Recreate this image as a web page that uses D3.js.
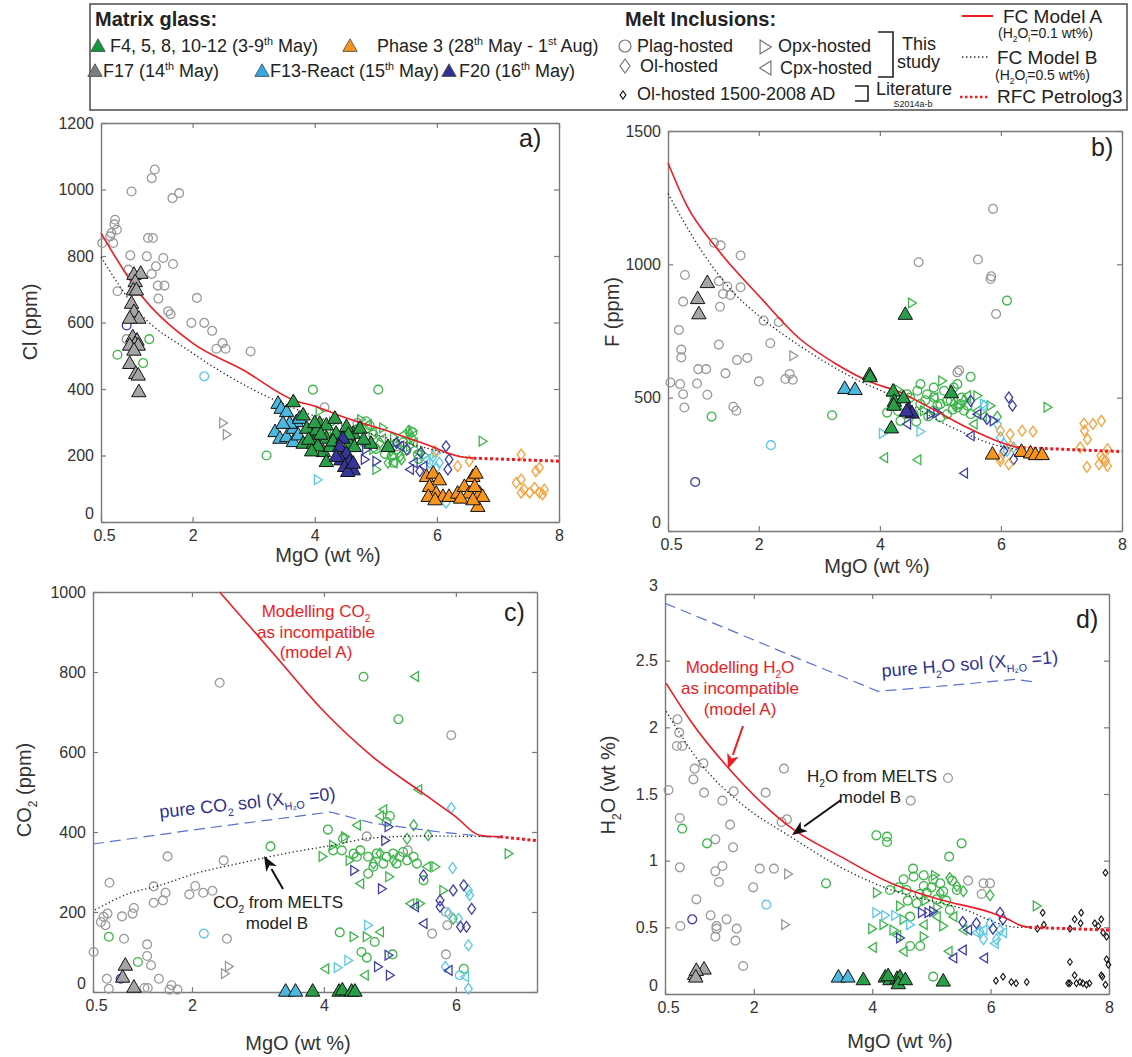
<!DOCTYPE html>
<html>
<head>
<meta charset="utf-8">
<script src="https://cdn.jsdelivr.net/npm/d3@7"></script>
<style>
  body { margin: 0; background: #fff; }
  svg { display: block; font-family: "Liberation Sans", Arial, sans-serif; }
  text { white-space: pre; }
</style>
</head>
<body>
<div id="chart"></div>
<script>
// ---------- data: panel a) Cl (ppm) vs MgO (wt %) ----------
const clPlagGrey = [[0.52,839],[0.67,869],[0.73,909],[0.76,879],[0.70,839],[0.65,859],[0.72,895],[1.0,994],[1.33,1034],[1.38,1060],[1.67,974],[1.78,989],[1.27,854],[1.35,854],[0.98,802],[1.25,799],[1.52,794],[1.68,776],[1.4,769],[1.33,746],[0.95,759],[0.77,694],[1.43,711],[1.54,711],[1.44,672],[2.07,674],[1.6,634],[1.64,625],[1.98,599],[2.19,599],[2.32,575],[2.49,538],[2.54,521],[2.39,521],[2.95,513],[0.92,550],[4.16,345],[4.7,298],[5.35,228]];
const clPlagGreen = [[0.77,503],[1.29,550],[1.19,478],[3.21,200],[3.97,398],[5.04,398],[4.84,303],[4.96,263],[5.26,198],[5.34,218],[5.69,203],[4.52,278],[5.29,178],[4.4,258],[4.9,290],[5.45,240],[5.6,270],[4.6,250],[4.8,240],[5.0,220],[5.15,205],[5.5,215],[5.7,190]];
const clPlagCyan = [[2.19,438]];
const clPlagBlue = [[0.92,591]];
const clOpxGrey = [[2.5,298],[2.56,263]];
const clOpxGreen = [[4.08,333],[5.01,158],[4.96,218],[6.75,243],[5.12,283],[5.29,198],[5.56,228],[4.76,308],[4.3,300],[5.6,275],[4.5,262],[5.3,255],[5.8,200]];
const clOpxCyan = [[4.05,127],[5.99,208]];
const clOpxBlue = [[4.84,218],[5.01,183],[4.82,188]];
const clCpxGreen = [[4.63,278],[4.87,293],[5.29,178],[5.45,263],[5.62,238],[5.29,238],[4.2,280],[5.1,250],[4.95,270],[5.7,210]];
const clCpxCyan = [[5.83,188]];
const clCpxBlue = [[5.56,158],[5.78,168],[5.62,178],[5.4,228]];
const clOlGreen = [[5.53,273],[5.56,263],[5.42,188],[5.2,178],[5.07,238],[5.4,198],[5.6,250],[5.25,215]];
const clOlCyan = [[6.15,58],[5.94,198],[6.04,178],[5.88,178],[5.99,163]];
const clOlBlue = [[6.15,228],[5.74,208],[5.72,153],[6.18,158],[6.2,188],[5.34,238],[5.51,218]];
const clOlOrange = [[7.38,203],[7.62,153],[7.68,163],[7.3,118],[7.38,128],[7.43,98],[7.38,88],[7.52,88],[7.6,103],[7.68,88],[7.76,98],[7.73,83],[6.53,183],[6.34,168],[5.97,213]];
const clGlassGrey = [[1.04,746],[1.15,749],[1.06,724],[1.03,699],[1.08,699],[1.0,659],[1.04,634],[1.12,614],[0.97,614],[1.02,558],[1.09,548],[1.06,538],[0.97,533],[1.11,533],[1.04,518],[0.97,478],[1.07,448],[1.11,443],[1.12,393]];
const clGlassCyan = [[3.4,358],[3.45,343],[3.54,333],[3.35,273],[3.43,253],[3.54,258],[3.65,283],[3.7,303],[3.59,298],[3.65,243],[3.73,263],[3.48,298],[3.75,313]];
const clGlassGreen = [[3.65,363],[3.81,323],[3.87,283],[3.98,258],[3.81,238],[3.98,238],[4.08,298],[4.19,293],[4.33,313],[4.19,253],[4.35,268],[4.14,213],[4.25,228],[4.19,183],[4.46,253],[4.57,238],[4.63,268],[4.74,283],[4.65,228],[4.92,238],[5.2,228],[4.03,278],[4.52,288],[4.41,208],[3.9,250],[4.05,230],[4.0,300],[4.3,245],[4.1,265],[4.55,265],[4.8,250],[3.95,215]];
const clGlassBlue = [[4.46,253],[4.41,228],[4.52,208],[4.43,188],[4.57,183],[4.49,168],[4.63,158],[4.54,153],[4.35,198],[4.63,178]];
const clGlassOrange = [[5.83,138],[5.94,148],[6.04,128],[5.88,108],[5.99,88],[5.86,78],[6.1,78],[5.97,68],[6.2,78],[6.34,88],[6.45,108],[6.59,138],[6.64,148],[6.53,88],[6.7,88],[6.62,108],[6.67,48],[6.75,78],[6.59,68],[6.39,73]];
const clModelA = [[0.5,869],[1.09,698],[2.0,538],[2.83,457],[3.65,367],[4.04,346],[4.47,316],[5.29,268],[5.84,232],[6.39,196],[6.6,192]];
const clModelB = [[0.5,797],[1.09,638],[2.0,508],[2.94,403],[4.04,316],[5.0,262],[5.84,222],[6.43,196],[6.6,193]];
const clRfc = [[6.6,192],[8,183]];

// ---------- data: panel b) F (ppm) ----------
const fPlagGrey = [[0.54,557],[0.7,551],[0.75,513],[0.77,463],[0.68,754],[0.72,680],[0.72,651],[0.78,960],[0.75,860],[0.98,553],[1.0,607],[1.13,607],[1.15,511],[1.26,1081],[1.37,1071],[1.34,937],[1.36,841],[1.34,699],[1.41,889],[1.48,917],[1.53,885],[1.45,591],[1.7,1033],[1.7,914],[1.64,641],[1.81,649],[1.58,466],[1.63,451],[2.08,789],[2.0,561],[2.19,704],[2.33,783],[2.44,570],[2.51,589],[2.56,567],[4.64,1008],[5.62,1018],[5.83,945],[5.84,955],[5.87,1208],[5.92,814],[5.28,595],[5.31,603]];
const fPlagGreen = [[1.22,429],[3.21,434],[6.1,864],[5.5,578],[4.12,444],[4.23,476],[4.45,513],[4.62,526],[4.78,513],[4.89,538],[5.06,526],[5.22,538],[5.33,476],[5.28,463],[4.67,476],[4.89,451],[5.11,438],[5.39,451],[5.5,438],[4.56,438],[5.0,476],[5.17,488],[4.34,413],[5.28,551],[4.89,501],[4.67,551],[5.11,488],[5.0,426],[4.4,470],[4.5,500],[4.75,490],[4.95,470],[5.2,455],[5.35,500],[4.3,450],[4.6,410],[4.8,430],[5.45,470]];
const fPlagCyan = [[2.2,322]];
const fPlagBlue = [[0.95,184]];
const fOpxGrey = [[2.57,657]];
const fOpxGreen = [[4.53,855],[6.77,464],[5.03,563],[5.61,507],[4.73,451],[4.23,513],[5.83,470],[4.3,530],[5.3,470]];
const fOpxCyan = [[4.05,366],[4.67,373],[5.72,476]];
const fOpxBlue = [[4.84,438],[4.95,444],[5.88,413]];
const fCpxGreen = [[4.07,275],[4.62,267],[5.44,507],[5.61,451],[5.55,401],[4.9,500],[5.7,430]];
const fCpxBlue = [[5.39,217],[5.5,357],[5.61,438],[4.45,401]];
const fOlGreen = [[5.94,428],[5.22,476],[5.39,488]];
const fOlCyan = [[5.72,470],[5.94,401],[5.99,351],[6.05,326],[6.1,300],[6.21,313]];
const fOlBlue = [[6.13,501],[6.19,470],[5.5,488],[5.77,420],[6.05,300],[6.21,269]];
const fOlOrange = [[7.37,403],[7.52,401],[7.66,413],[7.38,376],[7.43,344],[7.31,313],[7.76,307],[7.65,282],[7.73,263],[7.42,240],[7.62,250],[7.76,244],[7.68,269],[5.99,376],[6.15,363],[6.35,376],[6.53,373],[6.16,319],[5.99,275],[6.13,250],[5.99,263]];
const fGlassGrey = [[1.15,933],[0.99,873],[1.01,816]];
const fGlassGreen = [[4.42,814],[3.83,588],[3.84,580],[4.22,526],[4.24,488],[4.23,473],[4.19,388],[4.39,501],[5.18,520]];
const fGlassCyan = [[3.42,536],[3.59,532]];
const fGlassBlue = [[4.48,457],[4.53,444],[4.44,451]];
const fGlassOrange = [[5.86,290],[6.34,300],[6.49,294],[6.57,288],[6.68,288]];
const fModelA = [[0.5,1380],[0.81,1221],[1.31,1059],[2.0,882],[2.68,720],[3.23,633],[3.81,562],[4.33,520],[4.88,456],[5.44,388],[6.0,332],[6.27,313]];
const fModelB = [[0.5,1266],[1.03,1059],[1.57,897],[2.0,807],[2.68,694],[3.51,580],[4.33,494],[5.16,392],[6.0,317],[6.3,305]];
const fRfc = [[6.27,313],[8,298]];

// ---------- data: panel c) CO2 (ppm) ----------
const co2PlagGrey = [[0.51,100],[0.71,33],[0.74,8],[0.62,175],[0.66,188],[0.72,196],[0.69,167],[0.75,273],[0.94,189],[0.97,133],[1.1,196],[1.12,210],[1.32,119],[1.32,90],[1.38,67],[1.28,10],[1.33,10],[1.5,33],[1.42,223],[1.42,264],[1.56,229],[1.6,248],[1.63,339],[1.69,17],[1.78,6],[1.66,6],[1.96,244],[2.05,265],[2.17,248],[2.31,253],[2.48,329],[2.53,133],[2.42,773],[5.93,642],[4.65,389],[5.27,354],[5.64,146],[5.85,200],[5.87,167],[5.85,94]];
const co2PlagGreen = [[0.74,138],[1.18,75],[3.19,364],[4.6,788],[5.13,682],[4.06,406],[4.24,149],[4.57,100],[4.65,86],[4.77,125],[5.04,94],[6.12,58],[5.51,279],[4.14,354],[4.27,354],[4.29,383],[4.45,346],[4.55,354],[4.67,338],[4.8,346],[4.95,338],[5.05,346],[5.15,338],[5.26,329],[5.36,338],[4.75,313],[4.9,321],[5.1,321],[4.5,338],[5.2,350],[5.41,321],[4.67,296],[4.95,425],[5.0,440]];
const co2PlagCyan = [[2.18,146],[6.06,42]];
const co2PlagBlue = [[0.92,33]];
const co2OpxGrey = [[2.56,64],[2.5,46]];
const co2OpxGreen = [[6.8,346],[3.98,339],[4.14,367],[4.45,138],[4.65,138],[5.69,313],[5.81,254],[5.46,221],[4.99,288],[4.32,388],[4.39,329]];
const co2OpxCyan = [[4.67,167],[4.37,79],[4.21,61]];
const co2OpxBlue = [[4.98,413],[4.93,379],[4.88,258],[4.98,92],[4.82,63],[5.0,42],[4.46,304]];
const co2CpxGreen = [[5.38,789],[5.43,506],[4.5,417],[4.9,456],[4.02,58],[4.62,42],[5.31,221],[4.85,150],[5.56,313],[4.55,271],[4.85,440]];
const co2CpxCyan = [[6.14,38]];
const co2CpxBlue = [[5.38,213],[5.51,171],[5.89,54]];
const co2OlGreen = [[5.36,417],[5.26,383],[5.58,392],[5.05,329],[5.96,183],[4.75,321],[4.85,346]];
const co2OlCyan = [[5.93,460],[5.95,310],[5.89,196],[6.04,183],[6.19,254],[6.21,242],[6.19,117],[6.19,8],[5.84,63]];
const co2OlBlue = [[5.51,292],[5.76,229],[5.96,254],[6.12,267],[6.07,163],[6.16,163],[6.24,208],[5.76,213]];
const co2GlassGrey = [[0.99,68],[0.95,38],[1.12,13]];
const co2GlassCyan = [[3.42,3],[3.57,3]];
const co2GlassGreen = [[3.83,3],[4.23,3],[4.28,6],[4.42,3],[4.47,3]];
const co2ModelA = [[2.42,1000],[3.23,847],[3.98,705],[4.74,588],[5.5,497],[6.0,438],[6.36,392],[6.67,388]];
const co2ModelB = [[0.53,205],[1.06,247],[1.48,265],[2.07,297],[2.73,322],[3.44,347],[4.14,367],[4.74,385],[5.5,390],[6.67,388]];
const co2Rfc = [[6.67,388],[7.25,378]];
const co2Sol = [[0.5,370],[2.23,410],[4.1,450],[4.74,422],[5.76,400],[6.67,385]];

// ---------- data: panel d) H2O (wt %) ----------
const h2oPlagGrey = [[0.56,1.53],[0.71,2.06],[0.74,1.96],[0.7,1.86],[0.79,1.86],[1.0,1.69],[0.98,1.61],[1.15,1.73],[1.16,1.51],[1.47,1.45],[1.66,1.52],[2.2,1.51],[2.51,1.69],[2.47,1.29],[2.56,1.31],[1.6,1.27],[1.35,1.16],[1.65,1.1],[0.75,1.32],[0.75,0.95],[1.47,0.96],[1.35,0.92],[1.41,0.84],[2.1,0.94],[2.34,0.94],[1.99,0.8],[1.03,0.71],[0.76,0.51],[1.27,0.59],[1.37,0.51],[1.37,0.49],[1.35,0.43],[1.54,0.56],[1.71,0.49],[1.69,0.4],[1.82,0.21],[5.28,1.62],[4.65,1.45],[5.62,0.85],[5.88,0.83],[5.99,0.83],[5.85,0.75]];
const h2oPlagGreen = [[0.79,1.24],[1.21,1.13],[3.22,0.83],[4.07,1.19],[4.25,1.18],[4.25,1.14],[5.51,1.13],[5.3,1.03],[4.69,0.94],[5.03,0.13],[4.64,0.36],[4.81,0.36],[4.53,0.86],[4.7,0.88],[4.87,0.89],[5.03,0.86],[5.15,0.83],[4.87,0.81],[4.58,0.78],[4.92,0.76],[5.2,0.77],[4.75,0.68],[5.09,0.71],[5.31,0.63],[4.64,0.58],[4.3,0.78],[5.43,0.78],[4.45,0.8],[4.8,0.75],[5.0,0.8],[5.25,0.7],[4.6,0.7],[5.35,0.85]];
const h2oPlagCyan = [[2.21,0.67]];
const h2oPlagBlue = [[0.96,0.56]];
const h2oOpxGrey = [[2.58,0.9],[2.53,0.52]];
const h2oOpxGreen = [[4.08,0.76],[4.0,0.49],[4.19,0.52],[4.36,0.48],[5.06,0.89],[6.78,0.66],[4.87,0.43],[5.2,0.51],[4.53,0.56],[4.47,0.66],[4.9,0.7],[5.1,0.65]];
const h2oOpxCyan = [[4.07,0.61],[4.22,0.59],[4.39,0.59],[4.64,0.52]];
const h2oOpxBlue = [[4.84,0.61],[4.95,0.61],[5.03,0.62],[4.47,0.42]];
const h2oCpxGreen = [[4.01,0.35],[4.53,0.32],[5.29,0.32],[4.42,0.44],[4.87,0.52],[5.09,0.58],[5.37,0.58],[5.54,0.48]];
const h2oCpxCyan = [[5.88,0.48],[5.76,0.46],[6.07,0.38],[6.21,0.46]];
const h2oCpxBlue = [[5.37,0.27],[5.53,0.33],[5.89,0.27],[5.62,0.48]];
const h2oOlGreen = [[5.31,0.87],[5.54,0.77],[5.99,0.74],[5.15,0.76],[5.43,0.81]];
const h2oOlCyan = [[5.82,0.47],[5.99,0.53],[6.1,0.41],[6.16,0.48],[5.88,0.41]];
const h2oOlBlue = [[5.53,0.54],[5.76,0.53],[6.16,0.61],[6.21,0.56],[6.04,0.49]];
const h2oLitOl = [[6.09,0.1],[6.21,0.13],[6.35,0.09],[6.43,0.08],[6.61,0.09],[6.88,0.61],[6.9,0.52],[6.79,0.49],[7.34,0.24],[7.34,0.49],[7.42,0.56],[7.53,0.61],[7.52,0.53],[7.42,0.14],[7.34,0.08],[7.45,0.08],[7.56,0.08],[7.51,0.09],[7.62,0.07],[7.76,0.53],[7.82,0.51],[7.87,0.56],[7.9,0.46],[7.96,0.43],[7.94,0.91],[7.96,0.26],[7.99,0.22],[7.87,0.14],[7.89,0.13],[7.94,0.07],[7.31,0.08],[7.67,0.08]];
const h2oGlassGrey = [[1.0,0.15],[1.16,0.19],[1.03,0.18],[1.02,0.13]];
const h2oGlassCyan = [[3.43,0.13],[3.59,0.13]];
const h2oGlassGreen = [[3.85,0.11],[4.22,0.13],[4.3,0.11],[4.42,0.12],[4.47,0.13],[4.44,0.08],[4.56,0.11],[5.2,0.1],[4.27,0.14]];
const h2oModelA = [[0.52,2.33],[0.93,2.05],[1.6,1.68],[2.62,1.25],[3.47,1.03],[4.32,0.83],[5.17,0.705],[6.01,0.61],[6.3,0.56],[6.47,0.52],[6.65,0.5]];
const h2oModelB = [[0.52,2.12],[1.1,1.73],[1.78,1.43],[2.62,1.18],[3.47,0.95],[4.32,0.78],[5.45,0.65],[6.47,0.5],[6.7,0.5]];
const h2oRfc = [[6.65,0.5],[8,0.48]];
const h2oSol = [[0.5,2.93],[1.49,2.75],[2.62,2.54],[4.1,2.27],[5.45,2.32],[6.41,2.36],[6.75,2.34]];

// ---------- styles ----------
const C = {
  green: '#3db54a', grey: '#9a9a9a', cyan: '#5cc8e6', blue: '#3e3ea6', orange: '#f7a13a',
  gGreen: '#2a9d48', gGrey: '#a5a5a5', gCyan: '#4db8dd', gBlue: '#35359c', gOrange: '#f7941e',
  red: '#ed1c24', sol: '#5b6fd2', text: '#222'
};

const svg = d3.select('#chart').append('svg')
  .attr('width', 1132).attr('height', 1057);

// marker outline built with d3.path
function shapePath(kind, s) {
  const p = d3.path();
  if (kind === 'o') { p.moveTo(s, 0); p.arc(0, 0, s, 0, 2 * Math.PI); }
  else if (kind === 'd') { p.moveTo(0, -s); p.lineTo(s * 0.72, 0); p.lineTo(0, s); p.lineTo(-s * 0.72, 0); p.closePath(); }
  else if (kind === '>') { p.moveTo(-s * 0.7, -s); p.lineTo(s * 0.9, 0); p.lineTo(-s * 0.7, s); p.closePath(); }
  else if (kind === '<') { p.moveTo(s * 0.7, -s); p.lineTo(-s * 0.9, 0); p.lineTo(s * 0.7, s); p.closePath(); }
  else if (kind === '^') { p.moveTo(0, -s); p.lineTo(s, s * 0.75); p.lineTo(-s, s * 0.75); p.closePath(); }
  return p.toString();
}
const SIZE = { o: 4.4, d: 5.4, '>': 4.9, '<': 4.9 };

// text with sub/superscripts: '_x' = subscript, '^x' = superscript
function rich(sel, parts, size) {
  let shift = 0;
  parts.forEach(function (p) {
    const kind = p[0] === '_' ? 'sub' : p[0] === '^' ? 'sup' : 'n';
    const txt = kind === 'n' ? p : p.slice(1);
    const target = kind === 'sub' ? size * 0.3 : kind === 'sup' ? -size * 0.4 : 0;
    sel.append('tspan')
      .attr('dy', target - shift)
      .attr('font-size', kind === 'n' ? size : size * 0.6)
      .text(txt);
    shift = target;
  });
  return sel;
}

function arrow(g, x1, y1, x2, y2, color) {
  const ang = Math.atan2(y2 - y1, x2 - x1);
  const hl = 15, hw = 6;
  const bx = x2 - hl * Math.cos(ang), by = y2 - hl * Math.sin(ang);
  g.append('line').attr('x1', x1).attr('y1', y1).attr('x2', bx).attr('y2', by)
    .attr('stroke', color).attr('stroke-width', 2);
  g.append('path')
    .attr('d', 'M' + x2 + ',' + y2 +
      'L' + (bx + hw * Math.sin(ang)) + ',' + (by - hw * Math.cos(ang)) +
      'L' + (bx + 4 * Math.cos(ang)) + ',' + (by + 4 * Math.sin(ang)) +
      'L' + (bx - hw * Math.sin(ang)) + ',' + (by + hw * Math.cos(ang)) + 'Z')
    .attr('fill', color);
}

// ---------- panels ----------
const panels = [
  {
    left: 101, right: 559, top: 123, bottom: 522, xDomain: [0.5, 8], yDomain: [0, 1200],
    yTicks: [0, 200, 400, 600, 800, 1000, 1200], xTicks: [0.5, 2, 4, 6, 8],
    ylab: ['Cl (ppm)'], ylabPos: [37, 322], xlabPos: [328, 562], tag: 'a)', tagPos: [519, 147],
    mi: [[clPlagGrey, 'o', C.grey], [clOpxGrey, '>', C.grey], [clPlagGreen, 'o', C.green], [clOpxGreen, '>', C.green],
      [clCpxGreen, '<', C.green], [clOlGreen, 'd', C.green], [clPlagCyan, 'o', C.cyan], [clOpxCyan, '>', C.cyan],
      [clCpxCyan, '<', C.cyan], [clOlCyan, 'd', C.cyan], [clPlagBlue, 'o', C.blue], [clOpxBlue, '>', C.blue],
      [clCpxBlue, '<', C.blue], [clOlBlue, 'd', C.blue], [clOlOrange, 'd', C.orange]],
    glass: [[clGlassGrey, C.gGrey], [clGlassCyan, C.gCyan], [clGlassGreen, C.gGreen], [clGlassBlue, C.gBlue], [clGlassOrange, C.gOrange]],
    modelA: clModelA, modelB: clModelB, rfc: clRfc
  },
  {
    left: 668, right: 1122, top: 131, bottom: 531, xDomain: [0.5, 8], yDomain: [0, 1500],
    yTicks: [0, 500, 1000, 1500], xTicks: [0.5, 2, 4, 6, 8],
    ylab: ['F (ppm)'], ylabPos: [619, 312], xlabPos: [877, 573], tag: 'b)', tagPos: [1091, 156],
    mi: [[fPlagGrey, 'o', C.grey], [fOpxGrey, '>', C.grey], [fPlagGreen, 'o', C.green], [fOpxGreen, '>', C.green],
      [fCpxGreen, '<', C.green], [fOlGreen, 'd', C.green], [fPlagCyan, 'o', C.cyan], [fOpxCyan, '>', C.cyan],
      [fOlCyan, 'd', C.cyan], [fPlagBlue, 'o', C.blue], [fOpxBlue, '>', C.blue],
      [fCpxBlue, '<', C.blue], [fOlBlue, 'd', C.blue], [fOlOrange, 'd', C.orange]],
    glass: [[fGlassGrey, C.gGrey], [fGlassCyan, C.gCyan], [fGlassGreen, C.gGreen], [fGlassBlue, C.gBlue], [fGlassOrange, C.gOrange]],
    modelA: fModelA, modelB: fModelB, rfc: fRfc
  },
  {
    left: 93, right: 537, top: 592, bottom: 992, xDomain: [0.5, 7.23], yDomain: [0, 1000],
    yTicks: [0, 200, 400, 600, 800, 1000], xTicks: [0.5, 2, 4, 6],
    ylab: ['CO', '_2', ' (ppm)'], ylabPos: [31, 790], xlabPos: [298, 1050], tag: 'c)', tagPos: [504, 621],
    mi: [[co2PlagGrey, 'o', C.grey], [co2OpxGrey, '>', C.grey], [co2PlagGreen, 'o', C.green], [co2OpxGreen, '>', C.green],
      [co2CpxGreen, '<', C.green], [co2OlGreen, 'd', C.green], [co2PlagCyan, 'o', C.cyan], [co2OpxCyan, '>', C.cyan],
      [co2CpxCyan, '<', C.cyan], [co2OlCyan, 'd', C.cyan], [co2PlagBlue, 'o', C.blue], [co2OpxBlue, '>', C.blue],
      [co2CpxBlue, '<', C.blue], [co2OlBlue, 'd', C.blue]],
    glass: [[co2GlassGrey, C.gGrey], [co2GlassCyan, C.gCyan], [co2GlassGreen, C.gGreen]],
    modelA: co2ModelA, modelB: co2ModelB, rfc: co2Rfc, sol: co2Sol
  },
  {
    left: 665, right: 1109, top: 594, bottom: 994, xDomain: [0.5, 8], yDomain: [0, 3],
    yTicks: [0, 0.5, 1, 1.5, 2, 2.5, 3], xTicks: [0.5, 2, 4, 6, 8],
    ylab: ['H', '_2', 'O (wt %)'], ylabPos: [615, 785], xlabPos: [900, 1048], tag: 'd)', tagPos: [1076, 628],
    mi: [[h2oPlagGrey, 'o', C.grey], [h2oOpxGrey, '>', C.grey], [h2oPlagGreen, 'o', C.green], [h2oOpxGreen, '>', C.green],
      [h2oCpxGreen, '<', C.green], [h2oOlGreen, 'd', C.green], [h2oPlagCyan, 'o', C.cyan], [h2oOpxCyan, '>', C.cyan],
      [h2oCpxCyan, '<', C.cyan], [h2oOlCyan, 'd', C.cyan], [h2oPlagBlue, 'o', C.blue], [h2oOpxBlue, '>', C.blue],
      [h2oCpxBlue, '<', C.blue], [h2oOlBlue, 'd', C.blue]],
    lit: h2oLitOl,
    glass: [[h2oGlassGrey, C.gGrey], [h2oGlassCyan, C.gCyan], [h2oGlassGreen, C.gGreen]],
    modelA: h2oModelA, modelB: h2oModelB, rfc: h2oRfc, sol: h2oSol
  }
];

panels.forEach(function (p, idx) {
  const x = d3.scaleLinear().domain(p.xDomain).range([p.left, p.right]);
  const y = d3.scaleLinear().domain(p.yDomain).range([p.bottom, p.top]);
  const g = svg.append('g');

  // axes: MATLAB-like box with inward ticks
  const fmt = d3.format('~g');
  const ax = g.append('g').attr('transform', 'translate(0,' + p.bottom + ')')
    .call(d3.axisBottom(x).tickValues(p.xTicks).tickSize(-5).tickSizeOuter(0).tickPadding(8).tickFormat(fmt));
  ax.selectAll('text').filter(d => d === 0.5).attr('dx', 3);
  const ay = g.append('g').attr('transform', 'translate(' + p.left + ',0)')
    .call(d3.axisLeft(y).tickValues(p.yTicks).tickSize(-5).tickSizeOuter(0).tickPadding(7).tickFormat(fmt));
  ay.selectAll('text').filter(d => d === 0 || (idx === 3 && d === 3)).attr('dy', '-0.25em');
  g.append('g').attr('transform', 'translate(0,' + p.top + ')')
    .call(d3.axisTop(x).tickValues(p.xTicks).tickSize(-5).tickSizeOuter(0).tickFormat(''));
  g.append('g').attr('transform', 'translate(' + p.right + ',0)')
    .call(d3.axisRight(y).tickValues(p.yTicks).tickSize(-5).tickSizeOuter(0).tickFormat(''));
  g.selectAll('.domain').attr('stroke', '#7a7a7a').attr('stroke-width', 1.4);
  g.selectAll('.tick line').attr('stroke', '#7a7a7a').attr('stroke-width', 1.2);
  g.selectAll('.tick text').attr('font-size', 16).attr('fill', '#333')
    .attr('font-family', '"Liberation Sans", Arial, sans-serif');

  // axis titles
  rich(g.append('text').attr('transform', 'translate(' + p.ylabPos[0] + ',' + p.ylabPos[1] + ') rotate(-90)')
    .attr('text-anchor', 'middle').attr('fill', '#333'), p.ylab, 20);
  g.append('text').attr('x', p.xlabPos[0]).attr('y', p.xlabPos[1]).attr('text-anchor', 'middle')
    .attr('font-size', 20).attr('fill', '#333').text('MgO (wt %)');
  g.append('text').attr('x', p.tagPos[0]).attr('y', p.tagPos[1]).attr('font-size', 25).attr('fill', '#222').text(p.tag);

  // melt inclusions (open symbols)
  p.mi.forEach(function (s) {
    g.append('g').selectAll('path').data(s[0]).join('path')
      .attr('d', shapePath(s[1], SIZE[s[1]]))
      .attr('transform', d => 'translate(' + x(d[0]) + ',' + y(d[1]) + ')')
      .attr('fill', 'none').attr('stroke', s[2]).attr('stroke-width', 1.3);
  });
  if (p.lit) {
    g.append('g').selectAll('path').data(p.lit).join('path')
      .attr('d', shapePath('d', 3.3))
      .attr('transform', d => 'translate(' + x(d[0]) + ',' + y(d[1]) + ')')
      .attr('fill', 'none').attr('stroke', '#111').attr('stroke-width', 1.1);
  }

  // model curves
  const line = d3.line().x(d => x(d[0])).y(d => y(d[1])).curve(d3.curveMonotoneX);
  const lin = d3.line().x(d => x(d[0])).y(d => y(d[1]));
  if (p.sol) {
    g.append('path').datum(p.sol).attr('d', lin).attr('fill', 'none')
      .attr('stroke', C.sol).attr('stroke-width', 1.2).attr('stroke-dasharray', '11,6');
  }
  g.append('path').datum(p.modelB).attr('d', line).attr('fill', 'none')
    .attr('stroke', '#222').attr('stroke-width', 1.3).attr('stroke-dasharray', '1.3,2.6');
  g.append('path').datum(p.modelA).attr('d', line).attr('fill', 'none')
    .attr('stroke', C.red).attr('stroke-width', 1.6);
  g.append('path').datum(p.rfc).attr('d', lin).attr('fill', 'none')
    .attr('stroke', C.red).attr('stroke-width', 3).attr('stroke-dasharray', '3,2.5');

  // matrix glass (filled triangles)
  p.glass.forEach(function (s) {
    g.append('g').selectAll('path').data(s[0]).join('path')
      .attr('d', shapePath('^', 7.2))
      .attr('transform', d => 'translate(' + x(d[0]) + ',' + y(d[1]) + ')')
      .attr('fill', s[1]).attr('stroke', '#111').attr('stroke-width', 1);
  });
});

// ---------- annotations panel c ----------
const an = svg.append('g');
[['Modelling CO', '_2'], ['as incompatible'], ['(model A)']].forEach(function (t, i) {
  rich(an.append('text').attr('x', 316).attr('y', 617 + i * 20.5).attr('text-anchor', 'middle')
    .attr('fill', C.red), t, 17);
});
rich(an.append('text').attr('transform', 'translate(160,818) rotate(-6)').attr('fill', '#2e3192'),
  ['pure CO', '_2', ' sol (X', '_H\u2082O', ' =0)'], 18);
rich(an.append('text').attr('x', 278).attr('y', 908).attr('text-anchor', 'middle').attr('fill', C.text),
  ['CO', '_2', ' from MELTS'], 17);
an.append('text').attr('x', 277).attr('y', 929).attr('text-anchor', 'middle').attr('fill', C.text)
  .attr('font-size', 17).text('model B');
arrow(an, 283, 889, 264, 856, '#111');

// ---------- annotations panel d ----------
[['Modelling H', '_2', 'O'], ['as incompatible'], ['(model A)']].forEach(function (t, i) {
  rich(an.append('text').attr('x', 740).attr('y', 673 + i * 21).attr('text-anchor', 'middle')
    .attr('fill', C.red), t, 17);
});
arrow(an, 743, 726, 728, 769, C.red);
rich(an.append('text').attr('transform', 'translate(882,677) rotate(-4.5)').attr('fill', '#2e3192'),
  ['pure H', '_2', 'O sol (X', '_H\u2082O', ' =1)'], 18);
rich(an.append('text').attr('x', 872).attr('y', 782).attr('text-anchor', 'middle').attr('fill', C.text),
  ['H', '_2', 'O from MELTS'], 17);
an.append('text').attr('x', 870).attr('y', 803).attr('text-anchor', 'middle').attr('fill', C.text)
  .attr('font-size', 17).text('model B');
arrow(an, 841, 800, 792, 835, '#111');

// ---------- legend ----------
const lg = svg.append('g');
lg.append('rect').attr('x', 90).attr('y', 4).attr('width', 1037).attr('height', 106)
  .attr('fill', '#fff').attr('stroke', '#555').attr('stroke-width', 1.6);
lg.append('text').attr('x', 95).attr('y', 26).attr('font-size', 20).attr('font-weight', 'bold')
  .attr('fill', '#222').text('Matrix glass:');
lg.append('text').attr('x', 625).attr('y', 26).attr('font-size', 20).attr('font-weight', 'bold')
  .attr('fill', '#222').text('Melt Inclusions:');

const glassKeys = [
  [98, 46, '#0f9a3e', 110, 52, ['F4, 5, 8, 10-12 (3-9', '^th', ' May)']],
  [350, 46, C.gOrange, 377, 52, ['Phase 3 (28', '^th', ' May - 1', '^st', ' Aug)']],
  [95, 71, '#7d7d7d', 103, 77, ['F17 (14', '^th', ' May)']],
  [262, 71, '#35a9e0', 270, 77, ['F13-React (15', '^th', ' May)']],
  [449, 71, '#2e3192', 459, 77, ['F20 (16', '^th', ' May)']]
];
glassKeys.forEach(function (k) {
  lg.append('path').attr('d', shapePath('^', 7.2)).attr('transform', 'translate(' + k[0] + ',' + k[1] + ')')
    .attr('fill', k[2]).attr('stroke', '#444').attr('stroke-width', 0.8);
  rich(lg.append('text').attr('x', k[3]).attr('y', k[4]).attr('fill', '#222'), k[5], 18);
});

const miKeys = [
  ['o', 625, 46, 637, 52, 'Plag-hosted'],
  ['d', 625, 66, 640, 72, 'Ol-hosted'],
  ['>', 765, 47, 778, 52, 'Opx-hosted'],
  ['<', 766, 68, 780, 74, 'Cpx-hosted']
];
miKeys.forEach(function (k) {
  lg.append('path').attr('d', shapePath(k[0], k[0] === 'o' ? 6 : 7)).attr('transform', 'translate(' + k[1] + ',' + k[2] + ')')
    .attr('fill', 'none').attr('stroke', '#777').attr('stroke-width', 1.2);
  lg.append('text').attr('x', k[3]).attr('y', k[4]).attr('font-size', 18).attr('fill', '#222').text(k[5]);
});
lg.append('path').attr('d', shapePath('d', 4)).attr('transform', 'translate(623,95)')
  .attr('fill', 'none').attr('stroke', '#111').attr('stroke-width', 1.2);
lg.append('text').attr('x', 637).attr('y', 100).attr('font-size', 18).attr('fill', '#222').text('Ol-hosted 1500-2008 AD');

// brackets
lg.append('path').attr('d', 'M878,32H893V77H878').attr('fill', 'none').attr('stroke', '#222').attr('stroke-width', 1.6);
lg.append('path').attr('d', 'M855,86H868V101H855').attr('fill', 'none').attr('stroke', '#222').attr('stroke-width', 1.6);
lg.append('text').attr('x', 902).attr('y', 50).attr('font-size', 18).attr('fill', '#222').text('This');
lg.append('text').attr('x', 897).attr('y', 68).attr('font-size', 18).attr('fill', '#222').text('study');
lg.append('text').attr('x', 876).attr('y', 95).attr('font-size', 18).attr('fill', '#222').text('Literature');
lg.append('text').attr('x', 913).attr('y', 107).attr('font-size', 9).attr('text-anchor', 'middle').attr('fill', '#222').text('S2014a-b');

// model keys
lg.append('line').attr('x1', 962).attr('x2', 993).attr('y1', 16).attr('y2', 16).attr('stroke', C.red).attr('stroke-width', 2);
lg.append('text').attr('x', 1003).attr('y', 23).attr('font-size', 19).attr('fill', '#222').text('FC Model A');
rich(lg.append('text').attr('x', 998).attr('y', 38).attr('fill', '#222'), ['(H', '_2', 'O', '_i', '=0.1 wt%)'], 14);
lg.append('line').attr('x1', 962).attr('x2', 990).attr('y1', 57).attr('y2', 57).attr('stroke', '#222')
  .attr('stroke-width', 1.4).attr('stroke-dasharray', '1.4,2.6');
lg.append('text').attr('x', 997).attr('y', 64).attr('font-size', 19).attr('fill', '#222').text('FC Model B');
rich(lg.append('text').attr('x', 995).attr('y', 80).attr('fill', '#222'), ['(H', '_2', 'O', '_i', '=0.5 wt%)'], 14);
lg.append('line').attr('x1', 960).attr('x2', 990).attr('y1', 97).attr('y2', 97).attr('stroke', C.red)
  .attr('stroke-width', 2.5).attr('stroke-dasharray', '2.5,2.5');
lg.append('text').attr('x', 997).attr('y', 103).attr('font-size', 19).attr('fill', '#222').text('RFC Petrolog3');
</script>
</body>
</html>
